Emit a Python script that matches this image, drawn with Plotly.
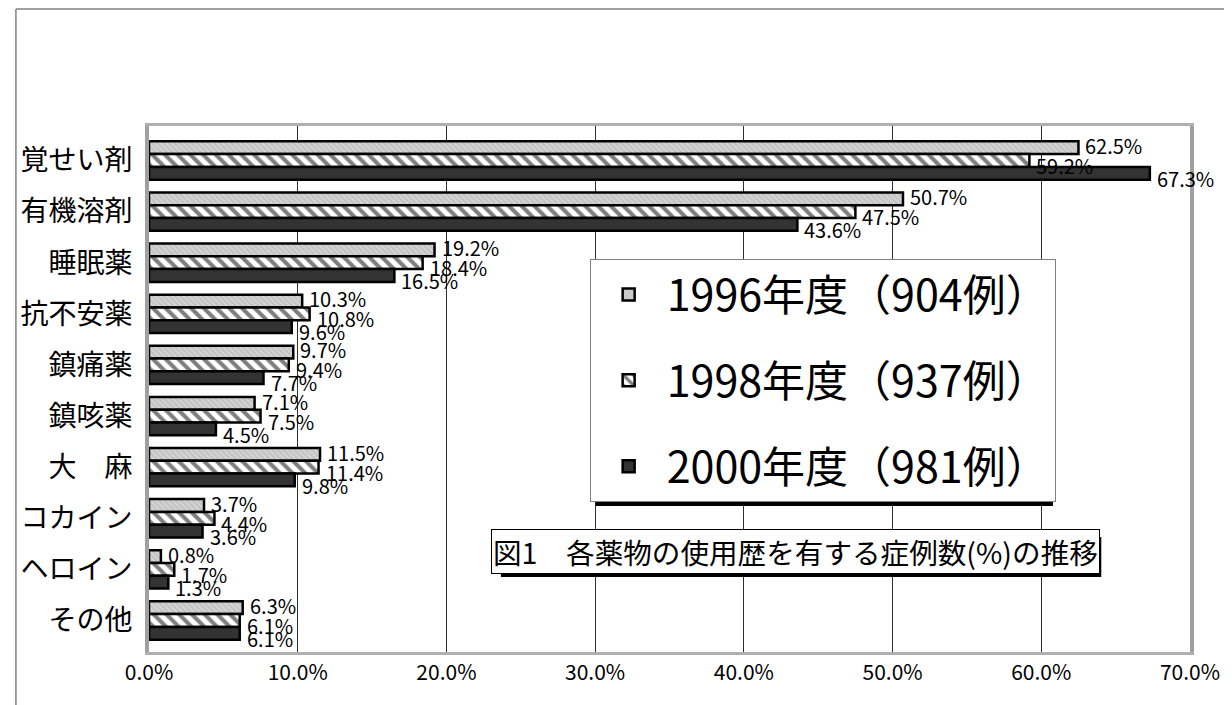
import plotly.graph_objects as go

categories = ["覚せい剤", "有機溶剤", "睡眠薬", "抗不安薬", "鎮痛薬", "鎮咳薬", "大　麻", "コカイン", "ヘロイン", "その他"]
series_names = ["1996年度（904例）", "1998年度（937例）", "2000年度（981例）"]
v1996 = [62.5, 50.7, 19.2, 10.3, 9.7, 7.1, 11.5, 3.7, 0.8, 6.3]
v1998 = [59.2, 47.5, 18.4, 10.8, 9.4, 7.5, 11.4, 4.4, 1.7, 6.1]
v2000 = [67.3, 43.6, 16.5, 9.6, 7.7, 4.5, 9.8, 3.6, 1.3, 6.1]
x_ticks = [0, 10, 20, 30, 40, 50, 60, 70]

FONT = "Noto Sans CJK JP"

styles = [
    dict(color="#cfcfcf", pattern=dict(shape="\\", fgcolor="#f2f2f2", bgcolor="#c4c4c4", size=4, solidity=0.3)),
    dict(color="white", pattern=dict(shape="\\", fgcolor="black", bgcolor="white", size=9, solidity=0.45)),
    dict(color="#333333"),
]

fig = go.Figure()
all_vals = [v1996, v1998, v2000]
for i, (name, vals) in enumerate(zip(series_names, all_vals)):
    st = styles[i]
    marker = dict(color=st["color"], line=dict(color="black", width=2.5))
    if "pattern" in st:
        marker["pattern"] = st["pattern"]
    fig.add_trace(go.Bar(
        y=categories, x=vals, name=name, orientation="h",
        marker=marker, legendgroup=f"g{i}",
    ))

# data labels
yshifts = [-15, 5, 18]
for i, vals in enumerate(all_vals):
    for c, v in zip(categories, vals):
        fig.add_annotation(
            x=v, y=c, xref="x", yref="y", text=f"{v:.1f}%",
            showarrow=False, xanchor="left", yanchor="middle",
            xshift=5, yshift=-yshifts[i],
            font=dict(family=FONT, size=20, color="black"),
        )

# page is offset by the 8px body margin
OFF = 8
W, H = 1224, 697
PX0, PX1 = 144, 1200   # page x of plot area edges
PY0, PY1 = 126, 652    # page y of plot area edges
L, T = PX0 - OFF, PY0 - OFF
R = W - (PX1 - OFF)
B = H - (PY1 - OFF)

def px2x(px):
    return (px - PX0) / (PX1 - PX0)

def py2y(py):
    return (PY1 - py) / (PY1 - PY0)

# title box shadow + box
fig.add_shape(type="rect", xref="paper", yref="paper",
              x0=px2x(501), x1=px2x(1110), y0=py2y(577), y1=py2y(537),
              fillcolor="black", line=dict(width=0), layer="above")
fig.add_annotation(
    x=px2x(800), y=py2y(551), xref="paper", yref="paper",
    text="図1　各薬物の使用歴を有する症例数(%)の推移", showarrow=False,
    font=dict(family=FONT, size=28.6, color="black"),
    bgcolor="white", bordercolor="black", borderwidth=1, borderpad=1,
    xanchor="center", yanchor="middle",
)

# legend shadow
fig.add_shape(type="rect", xref="paper", yref="paper",
              x0=px2x(597), x1=px2x(1061), y0=py2y(506), y1=py2y(265),
              fillcolor="black", line=dict(width=0), layer="above")

# outer frame (left & top)
fig.add_shape(type="line", xref="paper", yref="paper",
              x0=px2x(9), x1=px2x(9), y0=py2y(9), y1=py2y(720),
              line=dict(color="#808080", width=1.5))
fig.add_shape(type="line", xref="paper", yref="paper",
              x0=px2x(9), x1=px2x(1240), y0=py2y(9), y1=py2y(9),
              line=dict(color="#808080", width=1.5))

fig.update_layout(
    width=W, height=H,
    margin=dict(l=L, r=R, t=T, b=B),
    paper_bgcolor="white", plot_bgcolor="white",
    barmode="group", bargap=0.25, bargroupgap=0.0,
    font=dict(family=FONT, color="black"),
    legend=dict(
        x=px2x(591), y=py2y(259), xanchor="left", yanchor="top",
        bgcolor="white", bordercolor="#808080", borderwidth=1,
        font=dict(family=FONT, size=43, color="black"),
        tracegroupgap=27, entrywidth=484, itemwidth=66,
    ),
    showlegend=True,
)
fig.update_xaxes(
    range=[0, 70], tickvals=x_ticks, ticktext=[f"{t:.1f}%" for t in x_ticks],
    showgrid=True, gridcolor="#303030", gridwidth=1,
    showline=True, linecolor="#b0b0b0", linewidth=3, mirror=True,
    ticks="", tickfont=dict(family=FONT, size=21), zeroline=False,
)
fig.update_yaxes(
    autorange="reversed", showline=True, linecolor="#a0a0a0", linewidth=4, mirror=True,
    ticks="", tickfont=dict(family=FONT, size=28), ticklabelstandoff=7,
)

fig.write_html("out.html")
